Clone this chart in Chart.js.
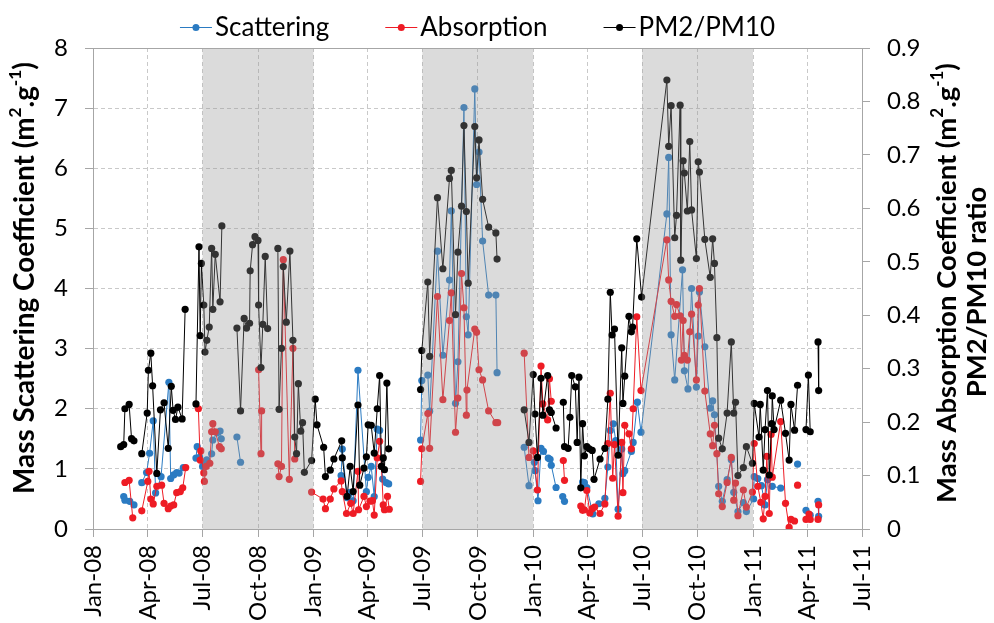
<!DOCTYPE html>
<html><head><meta charset="utf-8">
<script src="https://cdn.jsdelivr.net/npm/chart.js@4.4.1/dist/chart.umd.min.js"></script>
<style>html,body{margin:0;padding:0;background:#fff}#wrap{width:994px;height:623px;position:relative}</style>
</head><body><div id="wrap"><canvas id="c" width="994" height="623"></canvas></div>
<script>
// ---------------- DATA ----------------
const seriesNames = ['Scattering', 'Absorption', 'PM2/PM10'];

const tickDates = ['2008-01-01','2008-04-01','2008-07-01','2008-10-01','2009-01-01','2009-04-01','2009-07-01','2009-10-01','2010-01-01','2010-04-01','2010-07-01','2010-10-01','2011-01-01','2011-04-01','2011-07-01'];
const tickLabels = ['Jan-08','Apr-08','Jul-08','Oct-08','Jan-09','Apr-09','Jul-09','Oct-09','Jan-10','Apr-10','Jul-10','Oct-10','Jan-11','Apr-11','Jul-11'];

// shaded periods (Jul–Dec)
const shadeStarts = ['2008-07-01','2009-07-01','2010-07-01'];
const shadeEnds   = ['2009-01-01','2010-01-01','2011-01-01'];

// Mass scattering coefficient (m2/g), left axis
const scatDates = ['2008-02-21','2008-02-23','2008-03-02','2008-03-09','2008-03-15','2008-03-22','2008-03-30','2008-04-04','2008-04-10','2008-04-14','2008-04-23','2008-05-06','2008-05-09','2008-05-14','2008-05-19','2008-05-23','2008-05-30','2008-06-10','2008-06-20','2008-06-22','2008-06-26','2008-07-01','2008-07-05','2008-07-08','2008-07-16','2008-07-18','2008-07-25','2008-07-30','2008-08-01','2008-08-15','2008-08-27','2008-09-02','2008-12-01','2009-02-16','2009-02-18','2009-02-26','2009-03-03','2009-03-08','2009-03-16','2009-03-30','2009-04-02','2009-04-07','2009-04-12','2009-04-17','2009-04-21','2009-04-26','2009-05-02','2009-05-06','2009-06-01','2009-06-28','2009-06-30','2009-07-10','2009-07-13','2009-07-26','2009-08-04','2009-08-15','2009-08-18','2009-08-25','2009-08-29','2009-09-08','2009-09-12','2009-09-15','2009-09-26','2009-09-29','2009-10-03','2009-10-09','2009-10-19','2009-10-31','2009-11-02','2009-11-20','2009-12-17','2009-12-25','2010-01-03','2010-01-04','2010-01-09','2010-01-14','2010-01-18','2010-01-26','2010-01-29','2010-01-31','2010-02-08','2010-02-14','2010-02-19','2010-02-22','2010-03-10','2010-03-24','2010-03-27','2010-03-31','2010-04-10','2010-04-20','2010-04-30','2010-05-05','2010-05-09','2010-05-14','2010-05-18','2010-05-22','2010-05-28','2010-05-30','2010-06-02','2010-06-13','2010-06-16','2010-06-23','2010-06-29','2010-08-11','2010-08-14','2010-08-18','2010-08-24','2010-09-06','2010-09-09','2010-09-15','2010-09-21','2010-09-29','2010-10-02','2010-10-04','2010-10-13','2010-10-22','2010-10-26','2010-10-29','2010-11-05','2010-11-11','2010-11-19','2010-11-26','2010-11-30','2010-12-07','2010-12-16','2010-12-21','2011-01-02','2011-01-03','2011-01-09','2011-01-15','2011-01-21','2011-01-25','2011-02-02','2011-02-16','2011-03-01','2011-03-16','2011-03-23','2011-03-30','2011-04-06','2011-04-12','2011-04-19','2011-04-20'];
const scatVals = [0.54,0.48,0.46,0.40,null,0.77,0.94,1.26,1.80,0.60,0.87,2.44,0.84,0.90,0.94,0.93,1.02,null,1.18,1.37,1.19,1.04,1.09,1.15,1.25,1.48,1.60,1.63,1.50,null,1.53,1.11,null,0.89,1.33,0.52,0.61,0.47,2.64,0.62,0.86,1.04,0.54,1.66,1.64,0.83,0.77,0.75,null,1.48,2.47,2.56,1.96,4.62,2.89,4.14,5.29,2.09,2.78,7.01,3.53,3.23,7.32,5.73,6.27,4.79,3.89,3.89,2.60,null,1.36,0.72,1.11,0.97,0.47,1.34,1.29,1.18,1.16,1.06,0.69,null,0.54,0.46,null,0.78,0.77,0.69,0.25,0.42,0.51,1.03,1.64,1.75,1.47,0.33,1.33,0.92,0.97,1.29,1.44,2.11,1.61,5.24,6.18,3.23,2.48,4.31,2.63,2.33,4.00,2.36,3.21,3.94,3.03,2.01,2.13,1.90,0.71,0.46,0.82,1.15,0.61,0.29,0.44,0.29,0.50,0.87,0.84,0.72,0.40,0.82,0.71,0.68,null,1.08,null,0.31,0.23,null,0.46,0.21];

// Mass absorption coefficient (m2/g), right axis
const absDates = ['2008-02-23','2008-03-01','2008-03-07','2008-03-15','2008-03-22','2008-04-01','2008-04-03','2008-04-06','2008-04-10','2008-04-16','2008-04-24','2008-04-28','2008-05-05','2008-05-09','2008-05-14','2008-05-19','2008-05-25','2008-05-29','2008-06-03','2008-06-12','2008-06-24','2008-06-27','2008-06-28','2008-07-03','2008-07-04','2008-07-07','2008-07-13','2008-07-16','2008-07-18','2008-07-22','2008-07-29','2008-08-01','2008-09-01','2008-10-02','2008-10-06','2008-10-07','2008-10-20','2008-11-03','2008-11-05','2008-11-09','2008-11-12','2008-11-22','2008-11-28','2008-12-01','2008-12-15','2008-12-29','2009-01-17','2009-01-21','2009-01-29','2009-02-04','2009-02-16','2009-02-18','2009-02-25','2009-03-04','2009-03-08','2009-03-16','2009-03-17','2009-03-26','2009-03-30','2009-04-05','2009-04-09','2009-04-12','2009-04-17','2009-04-21','2009-04-24','2009-04-27','2009-04-29','2009-05-04','2009-05-07','2009-06-01','2009-06-28','2009-06-30','2009-07-10','2009-07-13','2009-07-26','2009-08-04','2009-08-15','2009-08-18','2009-08-25','2009-08-29','2009-09-04','2009-09-08','2009-09-12','2009-09-13','2009-09-26','2009-09-29','2009-10-03','2009-10-09','2009-10-19','2009-10-31','2009-11-03','2009-11-20','2009-12-17','2009-12-25','2010-01-01','2010-01-08','2010-01-14','2010-01-17','2010-01-25','2010-01-28','2010-01-31','2010-02-10','2010-02-20','2010-02-22','2010-03-10','2010-03-21','2010-03-24','2010-03-27','2010-03-31','2010-04-05','2010-04-09','2010-04-13','2010-04-22','2010-04-30','2010-05-05','2010-05-09','2010-05-13','2010-05-16','2010-05-22','2010-05-28','2010-05-30','2010-06-02','2010-06-09','2010-06-13','2010-06-16','2010-06-22','2010-06-29','2010-08-11','2010-08-14','2010-08-18','2010-08-24','2010-08-27','2010-09-02','2010-09-04','2010-09-07','2010-09-09','2010-09-14','2010-09-18','2010-09-21','2010-09-29','2010-10-02','2010-10-04','2010-10-13','2010-10-22','2010-10-26','2010-10-29','2010-11-02','2010-11-05','2010-11-11','2010-11-19','2010-11-26','2010-11-30','2010-12-03','2010-12-07','2010-12-16','2010-12-21','2010-12-31','2011-01-03','2011-01-09','2011-01-14','2011-01-18','2011-01-21','2011-01-24','2011-01-28','2011-01-31','2011-02-02','2011-02-16','2011-02-24','2011-03-02','2011-03-05','2011-03-11','2011-03-13','2011-03-16','2011-03-23','2011-03-30','2011-04-04','2011-04-06','2011-04-12','2011-04-19','2011-04-20'];
const absVals = [0.087,0.091,0.021,null,0.034,0.089,0.108,0.056,0.047,0.080,0.082,0.048,0.038,0.043,0.045,0.068,0.070,0.077,0.115,null,0.225,0.129,0.146,0.105,0.089,0.117,0.123,0.182,0.197,0.182,0.154,0.150,null,0.298,0.141,0.221,null,0.122,0.098,0.117,0.504,0.093,0.338,0.131,null,0.069,0.056,0.038,0.056,0.075,0.090,0.070,0.029,0.048,0.029,0.108,0.036,0.061,0.042,0.052,0.053,0.026,0.133,0.164,0.117,0.045,0.036,0.061,0.037,null,0.089,0.150,0.216,0.151,0.435,0.242,0.390,0.442,0.181,0.245,0.478,0.414,0.213,0.260,0.374,0.368,0.298,0.279,0.221,0.199,0.199,null,0.329,0.134,0.146,0.073,0.305,0.234,0.204,0.281,0.239,null,0.128,0.091,null,0.043,0.035,0.036,0.072,0.030,0.038,0.041,0.029,0.047,0.160,0.254,0.095,0.158,0.024,0.162,0.068,0.194,0.178,0.150,0.225,0.397,0.259,0.541,0.466,0.426,0.398,0.420,0.399,0.316,0.390,0.325,0.316,0.369,0.402,0.279,0.419,0.450,0.258,0.178,0.156,0.194,0.141,0.066,0.042,0.087,0.134,0.054,0.086,0.025,0.073,0.041,0.069,0.160,0.080,0.050,0.019,0.061,0.136,0.029,0.177,0.097,0.201,0.048,0.003,0.018,0.015,null,0.082,null,0.018,0.028,0.018,null,0.018,0.045];

// PM2/PM10 ratio, right axis
const ratioDates = ['2008-02-16','2008-02-21','2008-02-23','2008-03-01','2008-03-05','2008-03-09','2008-03-15','2008-03-22','2008-03-31','2008-04-02','2008-04-06','2008-04-09','2008-04-16','2008-04-22','2008-04-28','2008-05-05','2008-05-10','2008-05-13','2008-05-17','2008-05-21','2008-05-28','2008-06-02','2008-06-10','2008-06-20','2008-06-25','2008-06-27','2008-06-29','2008-07-03','2008-07-05','2008-07-08','2008-07-12','2008-07-16','2008-07-18','2008-07-22','2008-07-30','2008-08-02','2008-08-15','2008-08-27','2008-09-02','2008-09-08','2008-09-12','2008-09-17','2008-09-18','2008-09-22','2008-09-26','2008-10-01','2008-10-02','2008-10-06','2008-10-09','2008-10-13','2008-10-17','2008-10-25','2008-11-03','2008-11-05','2008-11-09','2008-11-12','2008-11-17','2008-11-23','2008-11-28','2008-12-01','2008-12-04','2008-12-07','2008-12-11','2008-12-14','2008-12-17','2008-12-29','2009-01-04','2009-01-07','2009-01-18','2009-01-21','2009-01-29','2009-02-04','2009-02-17','2009-02-18','2009-02-26','2009-03-03','2009-03-08','2009-03-16','2009-03-19','2009-03-26','2009-03-30','2009-04-02','2009-04-07','2009-04-12','2009-04-17','2009-04-21','2009-04-24','2009-04-27','2009-04-29','2009-05-03','2009-05-06','2009-06-01','2009-06-28','2009-06-30','2009-07-10','2009-07-13','2009-07-26','2009-08-04','2009-08-15','2009-08-18','2009-08-25','2009-08-29','2009-09-04','2009-09-08','2009-09-12','2009-09-15','2009-09-26','2009-09-29','2009-10-03','2009-10-09','2009-10-19','2009-10-31','2009-11-02','2009-11-20','2009-12-17','2009-12-25','2010-01-01','2010-01-04','2010-01-08','2010-01-14','2010-01-17','2010-01-25','2010-01-28','2010-01-31','2010-02-08','2010-02-14','2010-02-20','2010-02-22','2010-02-28','2010-03-03','2010-03-06','2010-03-12','2010-03-15','2010-03-18','2010-03-21','2010-03-24','2010-03-27','2010-03-31','2010-04-04','2010-04-09','2010-04-12','2010-04-22','2010-04-30','2010-05-05','2010-05-09','2010-05-12','2010-05-16','2010-05-22','2010-05-28','2010-05-30','2010-06-02','2010-06-09','2010-06-13','2010-06-15','2010-06-22','2010-06-30','2010-08-11','2010-08-14','2010-08-18','2010-08-24','2010-08-27','2010-09-02','2010-09-03','2010-09-07','2010-09-09','2010-09-14','2010-09-18','2010-09-21','2010-09-29','2010-10-02','2010-10-04','2010-10-13','2010-10-22','2010-10-26','2010-10-29','2010-11-02','2010-11-05','2010-11-11','2010-11-19','2010-11-26','2010-11-30','2010-12-03','2010-12-07','2010-12-16','2010-12-21','2010-12-31','2011-01-03','2011-01-11','2011-01-13','2011-01-18','2011-01-21','2011-01-25','2011-01-28','2011-02-01','2011-02-02','2011-02-05','2011-02-16','2011-02-24','2011-03-02','2011-03-05','2011-03-11','2011-03-16','2011-03-23','2011-03-30','2011-04-03','2011-04-06','2011-04-12','2011-04-19','2011-04-20'];
const ratioVals = [0.154,0.158,0.225,0.233,0.169,0.165,null,0.141,0.217,0.297,0.329,0.268,0.104,0.223,0.236,0.151,0.267,0.222,0.205,0.228,0.206,0.411,null,0.234,0.528,0.362,0.497,0.419,0.331,0.353,0.378,0.525,0.411,0.514,0.425,0.567,null,0.376,0.221,0.394,0.376,0.385,0.483,0.532,0.547,0.540,0.419,0.302,0.383,0.510,0.375,null,0.525,0.224,0.338,0.491,0.387,0.520,0.353,0.172,0.141,0.272,0.183,0.199,0.106,0.128,0.243,0.195,0.153,0.098,0.110,0.131,0.165,0.133,0.061,0.117,0.070,0.232,0.082,0.114,0.135,0.195,0.194,0.142,0.225,0.287,0.117,0.133,0.111,0.273,0.150,null,0.261,0.334,0.462,0.323,0.620,0.487,0.656,0.671,0.401,0.518,0.604,0.755,0.594,0.460,0.753,0.657,0.728,0.617,0.565,0.554,0.505,null,0.223,0.162,0.289,0.215,0.134,0.282,0.213,0.287,0.223,0.218,0.189,null,0.237,0.154,0.151,0.209,0.287,0.266,0.162,0.284,0.077,0.197,0.137,0.154,0.150,0.147,0.093,0.131,0.151,0.243,0.443,0.363,0.374,0.138,0.339,0.235,0.286,0.398,0.369,0.378,0.543,0.434,0.840,0.716,0.792,0.545,0.587,0.793,0.503,0.689,0.666,0.595,0.725,0.597,0.506,0.687,0.668,0.542,0.471,0.543,0.497,0.358,0.170,0.150,0.217,0.350,0.217,0.237,0.100,0.115,0.154,0.123,0.235,0.172,0.233,0.110,0.186,0.259,0.101,0.197,0.249,0.186,0.241,0.179,0.129,0.233,0.185,0.269,null,0.186,0.288,0.182,null,0.350,0.259];

// ---------------- HELPERS ----------------
const ms = s => { const [y,m,d] = s.split('-').map(Number); return Date.UTC(y, m-1, d); };
const pts = (dates, vals) => dates.map((d,i) => ({x: ms(d), y: vals[i]}));

const FONT = 'Lato, "Open Sans", sans-serif';
const COL_SCAT = '#2B7BC2', COL_ABS = '#EE1C25', COL_RATIO = '#000000';
const AXIS_COL = '#A6A6A6', GRID_COL = '#C9C9C9';

const shadePlugin = {
  id: 'shade',
  afterDatasetsDraw(chart) {
    const {ctx, chartArea: a, scales: {x}} = chart;
    ctx.save();
    ctx.fillStyle = 'rgba(150,150,150,0.34)';
    shadeStarts.forEach((s,i) => {
      const x0 = x.getPixelForValue(ms(s)), x1 = x.getPixelForValue(ms(shadeEnds[i]));
      ctx.fillRect(x0, a.top, x1 - x0, a.bottom - a.top);
    });
    ctx.strokeStyle = AXIS_COL; ctx.lineWidth = 1;
    ctx.beginPath(); ctx.moveTo(a.left - 8, a.top + 0.5); ctx.lineTo(a.right + 8, a.top + 0.5); ctx.stroke();
    ctx.restore();
  }
};

function richWidth(ctx, parts, fs) {
  let w = 0;
  parts.forEach(p => { ctx.font = `bold ${p.sup ? fs*0.62 : fs}px ${FONT}`; w += ctx.measureText(p.t).width; });
  return w;
}
function drawRich(ctx, parts, fs, x0) {
  let x = x0;
  parts.forEach(p => {
    ctx.font = `bold ${p.sup ? fs*0.62 : fs}px ${FONT}`;
    ctx.fillText(p.t, x, p.sup ? -fs*0.36 : 0);
    x += ctx.measureText(p.t).width;
  });
}
const leftTitle = [{t:'Mass Scattering Coefficient (m'},{t:'2',sup:1},{t:'.g'},{t:'-1',sup:1},{t:')'}];
const rightTitle1 = [{t:'Mass Absorption Coefficient (m'},{t:'2',sup:1},{t:'.g'},{t:'-1',sup:1},{t:')'}];
const rightTitle2 = [{t:'PM2/PM10 ratio'}];

const textPlugin = {
  id: 'texts',
  afterDraw(chart) {
    const ctx = chart.ctx;
    ctx.save();
    ctx.fillStyle = '#000';
    ctx.textBaseline = 'middle';
    ctx.textAlign = 'left';
    // axis titles (rotated, reading bottom to top)
    const fsL = 100 * 432 / richWidth(ctx, leftTitle, 100);
    ctx.save(); ctx.translate(25, 278); ctx.rotate(-Math.PI/2);
    drawRich(ctx, leftTitle, fsL, -richWidth(ctx, leftTitle, fsL)/2); ctx.restore();
    const fsR = 100 * 440 / richWidth(ctx, rightTitle1, 100);
    ctx.save(); ctx.translate(947, 283); ctx.rotate(-Math.PI/2);
    drawRich(ctx, rightTitle1, fsR, -richWidth(ctx, rightTitle1, fsR)/2); ctx.restore();
    ctx.save(); ctx.translate(977, 292); ctx.rotate(-Math.PI/2);
    drawRich(ctx, rightTitle2, fsR, -richWidth(ctx, rightTitle2, fsR)/2); ctx.restore();
    // legend
    const cols = [COL_SCAT, COL_ABS, COL_RATIO];
    const LF = `26px ${FONT}`;
    ctx.font = LF;
    const sym = 32, gap = 3, itemGap = 56;
    const widths = seriesNames.map(n => sym + gap + ctx.measureText(n).width);
    const total = widths.reduce((a,b)=>a+b,0) + itemGap*(seriesNames.length-1);
    const ca = chart.chartArea;
    let x = (ca.left + ca.right)/2 - total/2;
    const y = 27;
    seriesNames.forEach((n,i) => {
      ctx.strokeStyle = cols[i]; ctx.lineWidth = 1;
      ctx.beginPath(); ctx.moveTo(x, y+0.5); ctx.lineTo(x+sym, y+0.5); ctx.stroke();
      ctx.fillStyle = cols[i];
      ctx.beginPath(); ctx.arc(x+sym/2, y+0.5, 3.5, 0, Math.PI*2); ctx.fill();
      ctx.fillStyle = '#000';
      ctx.font = LF;
      ctx.fillText(n, x + sym + gap, y + 1);
      x += widths[i] + itemGap;
    });
    ctx.restore();
  }
};

const ds = (label, data, color, axis, order, lw) => ({
  label, data, yAxisID: axis, order,
  borderColor: color, backgroundColor: color,
  pointBackgroundColor: color, pointBorderColor: color,
  borderWidth: lw, pointRadius: 3.6, pointBorderWidth: 0, pointHoverRadius: 3.6,
  tension: 0, spanGaps: false, fill: false
});

new Chart(document.getElementById('c'), {
  type: 'line',
  data: {
    datasets: [
      ds(seriesNames[0], pts(scatDates, scatVals), COL_SCAT, 'y', 3, 1),
      ds(seriesNames[1], pts(absDates, absVals), COL_ABS, 'y2', 2, 1),
      ds(seriesNames[2], pts(ratioDates, ratioVals), COL_RATIO, 'y2', 1, 1)
    ]
  },
  options: {
    responsive: false, animation: false, devicePixelRatio: 1,
    layout: { padding: { top: 48, left: 0, right: 0, bottom: 0 } },
    plugins: { legend: { display: false }, tooltip: { enabled: false }, title: { display: false } },
    scales: {
      x: {
        type: 'linear', min: ms(tickDates[0]), max: ms(tickDates[tickDates.length-1]),
        afterBuildTicks: s => { s.ticks = tickDates.map(d => ({ value: ms(d) })); },
        afterFit: s => { s.height = 94; },
        ticks: { autoSkip: false, minRotation: 90, maxRotation: 90, padding: 8,
          color: '#000', font: { family: FONT, size: 24 },
          callback: (v, i) => tickLabels[i] },
        grid: { color: GRID_COL, tickColor: AXIS_COL, tickLength: 8, drawTicks: true },
        border: { color: AXIS_COL, dash: [4, 3] }
      },
      y: {
        position: 'left', min: 0, max: 8,
        afterFit: s => { s.width = 93; },
        ticks: { stepSize: 1, padding: 17, color: '#000', font: { family: FONT, size: 24 } },
        grid: { color: GRID_COL, tickColor: AXIS_COL, tickLength: 8 },
        border: { color: AXIS_COL, dash: [4, 3] }
      },
      y2: {
        position: 'right', min: 0, max: 0.9,
        afterFit: s => { s.width = 132; },
        ticks: { stepSize: 0.1, padding: 17, color: '#000', font: { family: FONT, size: 24 } },
        grid: { drawOnChartArea: false, color: AXIS_COL, tickColor: AXIS_COL, tickLength: 8 },
        border: { color: AXIS_COL }
      }
    }
  },
  plugins: [shadePlugin, textPlugin]
});
</script>
</body></html>
